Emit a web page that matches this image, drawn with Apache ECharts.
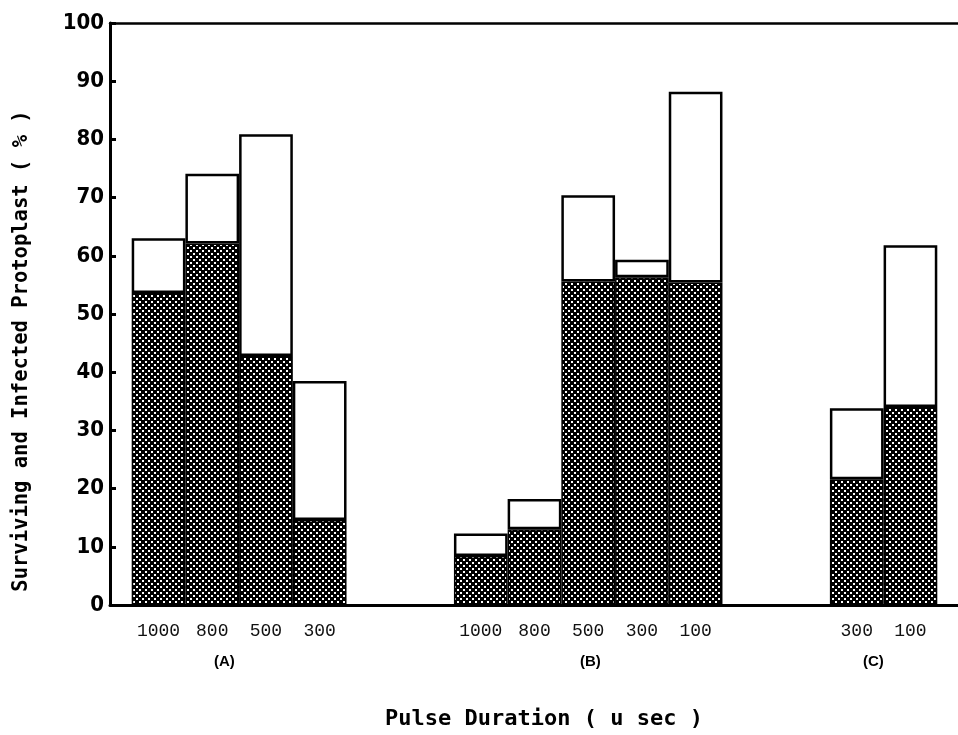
<!DOCTYPE html>
<html><head><meta charset="utf-8">
<script src="https://cdn.jsdelivr.net/npm/echarts@6/dist/echarts.min.js"></script>
<style>html,body{margin:0;padding:0;background:#fff}#c{width:958px;height:735px}</style>
</head><body><div id="c"></div>
<script>
// Pulse duration categories (blank slots separate the groups)
const categories = ['1000','800','500','300','','','1000','800','500','300','100','','','300','100'];
// Infected protoplast (%) – dark hatched lower part
const infected  = [53.6, 62.1, 42.8, 14.6, null, null, 8.4, 13.0, 55.6, 56.3, 55.4, null, null, 21.6, 34.0];
// Surviving protoplast (%) – total bar height
const surviving = [63.0, 74.1, 80.9, 38.5, null, null, 12.3, 18.2, 70.4, 59.3, 88.2, null, null, 33.8, 61.8];
const groupLabels = ['(A)', '(B)', '(C)'];
const yMin = 0, yMax = 100, yStep = 10;

const upper = surviving.map((v, i) => (v == null ? null : +(v - infected[i]).toFixed(2)));

// dotted hatch pattern
const pc = document.createElement('canvas');
pc.width = 6; pc.height = 6;
const g = pc.getContext('2d');
g.fillStyle = '#000'; g.fillRect(0, 0, 6, 6);
g.fillStyle = '#fff';
g.fillRect(1, 1, 2, 2);
g.fillRect(4, 4, 2, 2);

const chart = echarts.init(document.getElementById('c'), null, {renderer: 'canvas'});
const monoBold = "'DejaVu Sans Mono', monospace";
chart.setOption({
  backgroundColor: '#fff',
  animation: false,
  grid: [
    {left: 131.7, right: 20.7, top: 23, bottom: 130, containLabel: false, outerBoundsMode: 'none'},
    {left: 110, right: 0, top: 23, bottom: 130, containLabel: false, outerBoundsMode: 'none'}
  ],
  xAxis: [
    {type: 'category', gridIndex: 0, data: categories,
     axisLine: {show: false}, axisTick: {show: false}, splitLine: {show: false},
     axisLabel: {interval: 0, margin: 17, color: '#111', fontFamily: "'Liberation Mono', monospace", fontSize: 18}},
    {type: 'value', gridIndex: 1, min: 0, max: 1, position: 'bottom',
     axisLine: {show: true, lineStyle: {color: '#000', width: 3}},
     axisTick: {show: false}, axisLabel: {show: false}, splitLine: {show: false},
     name: 'Pulse Duration ( u sec )', nameLocation: 'middle', nameGap: 103,
     nameTextStyle: {fontFamily: monoBold, fontWeight: 'bold', fontSize: 22, color: '#000', padding: [0, 0, 0, 20]}},
    {type: 'value', gridIndex: 1, min: 0, max: 1, position: 'top',
     axisLine: {show: true, lineStyle: {color: '#000', width: 2.5}},
     axisTick: {show: false}, axisLabel: {show: false}, splitLine: {show: false}}
  ],
  yAxis: [
    {type: 'value', gridIndex: 0, min: yMin, max: yMax, interval: yStep, show: false},
    {type: 'value', gridIndex: 1, min: yMin, max: yMax, interval: yStep,
     axisLine: {show: true, lineStyle: {color: '#000', width: 3}},
     axisTick: {show: true, inside: true, length: 6, lineStyle: {color: '#000', width: 3}},
     splitLine: {show: false},
     axisLabel: {margin: 6, color: '#000', fontFamily: "'DejaVu Sans Condensed', 'DejaVu Sans', sans-serif", fontWeight: 'bold', fontSize: 22},
     name: 'Surviving and Infected Protoplast ( % )', nameLocation: 'middle', nameGap: 78,
     nameTextStyle: {fontFamily: monoBold, fontWeight: 'bold', fontSize: 20.5, color: '#000', padding: [0, 74, 0, 0]}}
  ],
  series: [
    {type: 'bar', xAxisIndex: 0, yAxisIndex: 0, stack: 'p', data: infected,
     barCategoryGap: '0%', z: 3,
     itemStyle: {color: {image: pc, repeat: 'repeat'}, borderColor: '#000', borderWidth: 1.5}},
    {type: 'bar', xAxisIndex: 0, yAxisIndex: 0, stack: 'p', data: upper,
     barCategoryGap: '0%', z: 3,
     itemStyle: {color: '#fff', borderColor: '#000', borderWidth: 2.5}}
  ],
  graphic: groupLabels.map((t, i) => ({
    type: 'text', left: [228, 594, 877][i] - 14, top: 654, z: 10,
    style: {text: t, fontFamily: "'Liberation Sans', Arial, sans-serif", fontWeight: 'bold', fontSize: 15, fill: '#000'}
  }))
});
</script></body></html>
